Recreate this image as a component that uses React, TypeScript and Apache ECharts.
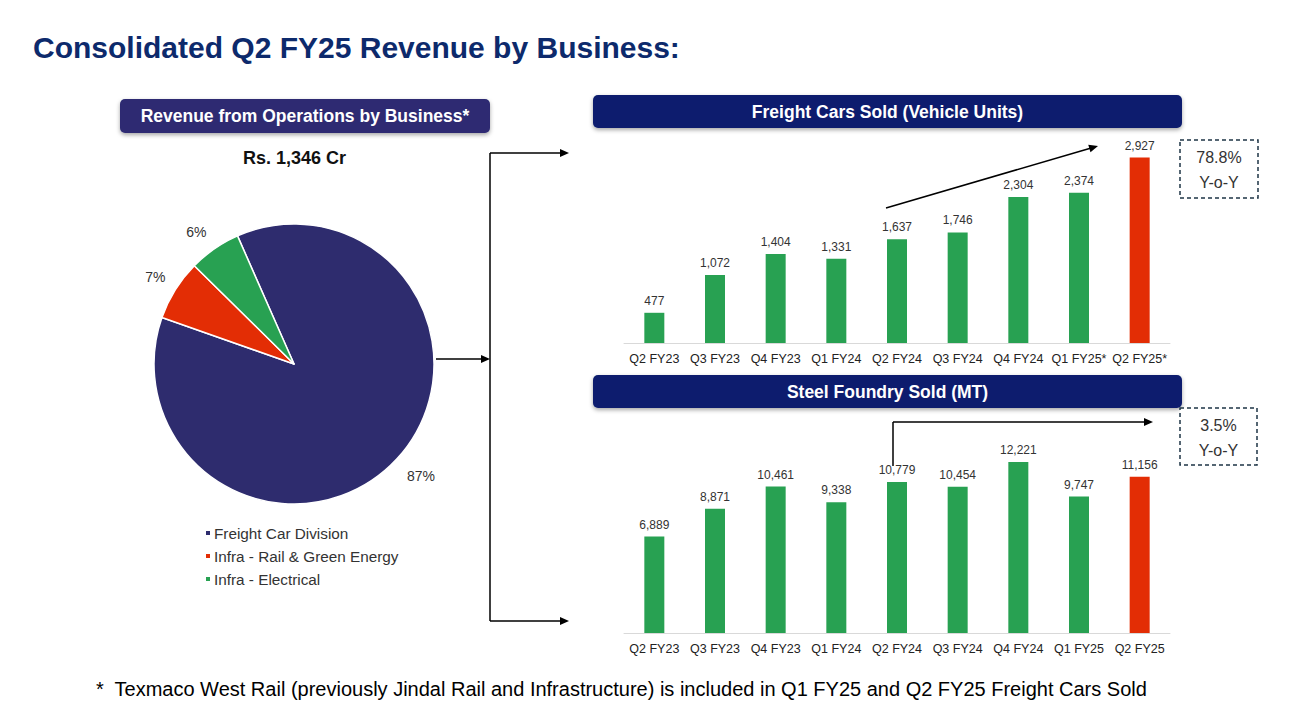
import React, { useEffect, useRef } from "react";
import * as echarts from "echarts";

const pieNames = ["Freight Car Division", "Infra - Rail & Green Energy", "Infra - Electrical"];
const pieValues = [87, 7, 6];
const quarters1 = ["Q2 FY23", "Q3 FY23", "Q4 FY23", "Q1 FY24", "Q2 FY24", "Q3 FY24", "Q4 FY24", "Q1 FY25*", "Q2 FY25*"];
const freightCars = [477, 1072, 1404, 1331, 1637, 1746, 2304, 2374, 2927];
const quarters2 = ["Q2 FY23", "Q3 FY23", "Q4 FY23", "Q1 FY24", "Q2 FY24", "Q3 FY24", "Q4 FY24", "Q1 FY25", "Q2 FY25"];
const steelFoundry = [6889, 8871, 10461, 9338, 10779, 10454, 12221, 9747, 11156];
const yoy1 = ["78.8%", "Y-o-Y"];
const yoy2 = ["3.5%", "Y-o-Y"];

const NAVY_PIE = "#2E2C6E";
const RED = "#E32D05";
const GREEN = "#28A152";
const HEADER = "#0C1F6E";
const FONT = "'Liberation Sans', Arial, sans-serif";
const pieLabelOffsets = [[-4, 7], [6, -5], [4, -5]];

function barData(vals: number[]) {
  return vals.map((v, i) =>
    i === vals.length - 1 ? { value: v, itemStyle: { color: RED } } : v
  );
}

function arrowHead(x: number, y: number, dir: "right" | number) {
  const ang = dir === "right" ? 0 : dir;
  const L = 9, W = 4;
  const bx = x - L * Math.cos(ang), by = y - L * Math.sin(ang);
  const px = -Math.sin(ang) * W, py = Math.cos(ang) * W;
  return {
    type: "polygon",
    shape: { points: [[x, y], [bx + px, by + py], [bx - px, by - py]] },
    style: { fill: "#000" },
    silent: true,
  };
}

function line(x1: number, y1: number, x2: number, y2: number) {
  return {
    type: "line",
    shape: { x1, y1, x2, y2 },
    style: { stroke: "#000", lineWidth: 1.5 },
    silent: true,
  };
}

function header(x: number, y: number, w: number, h: number, text: string, color: string) {
  return {
    type: "group",
    children: [
      {
        type: "rect",
        shape: { x, y, width: w, height: h, r: 5 },
        style: { fill: color, shadowBlur: 4, shadowOffsetY: 2, shadowColor: "rgba(0,0,0,0.35)" },
      },
      {
        type: "text",
        x: x + w / 2,
        y: y + h / 2,
        style: {
          text,
          fill: "#fff",
          font: `bold 17.5px ${FONT}`,
          textAlign: "center",
          textVerticalAlign: "middle",
        },
      },
    ],
  };
}

function yoyBox(x: number, y: number, w: number, h: number, lines: string[]) {
  return {
    type: "group",
    children: [
      {
        type: "rect",
        shape: { x, y, width: w, height: h },
        style: { fill: "#fff", stroke: "#1E3546", lineWidth: 1.5, lineDash: [4, 3] },
      },
      {
        type: "text",
        x: x + w / 2,
        y: y + h / 2 + 1,
        style: {
          text: lines.join("\n"),
          fill: "#333",
          font: `16px ${FONT}`,
          lineHeight: 25,
          textAlign: "center",
          textVerticalAlign: "middle",
        },
      },
    ],
  };
}

export default function App() {
  const ref = useRef<HTMLDivElement>(null);
  useEffect(() => {
    if (!ref.current) return;
    const chart = echarts.init(ref.current, null, { renderer: "svg" });
    const angleUp = Math.atan2(146 - 208, 1098 - 886);
    const xAxisBase = (data: string[], gridIndex: number) => ({
      type: "category",
      data,
      gridIndex,
      axisLine: { lineStyle: { color: "#D9D9D9", width: 1 } },
      axisTick: { show: false },
      axisLabel: { color: "#222", fontSize: 12.5, fontFamily: FONT, margin: 9, interval: 0 },
    });
    const yAxisBase = (gridIndex: number, max: number) => ({
      type: "value",
      gridIndex,
      min: 0,
      max,
      show: false,
      splitLine: { show: false },
    });
    const barLabel = {
      show: true,
      position: "top",
      distance: 6,
      color: "#333",
      fontSize: 12,
      fontFamily: FONT,
      formatter: (p: any) => Number(p.value).toLocaleString("en-US"),
    };
    chart.setOption({
      animation: false,
      backgroundColor: "#fff",
      textStyle: { fontFamily: FONT },
      title: [
        {
          text: "Consolidated Q2 FY25 Revenue by Business:",
          left: 33,
          top: 32,
          padding: 0,
          textStyle: { color: "#0D2A6C", fontSize: 30, fontWeight: "bold", fontFamily: FONT },
        },
        {
          text: "Rs. 1,346 Cr",
          left: 243,
          top: 149,
          padding: 0,
          textStyle: { color: "#111", fontSize: 18, fontWeight: "bold", fontFamily: FONT },
        },
        {
          text: "*  Texmaco West Rail (previously Jindal Rail and Infrastructure) is included in Q1 FY25 and Q2 FY25 Freight Cars Sold",
          left: 96,
          top: 679,
          padding: 0,
          textStyle: { color: "#000", fontSize: 20, fontWeight: "normal", fontFamily: FONT },
        },
      ],
      legend: {
        orient: "vertical",
        left: 199,
        top: 520,
        icon: "rect",
        itemWidth: 6,
        itemHeight: 6,
        itemGap: 7,
        data: pieNames,
        textStyle: { color: "#333", fontSize: 15.3, fontFamily: FONT, padding: [0, 0, 0, -2], lineHeight: 16 },
      },
      grid: [
        { left: 624, width: 546, top: 134, height: 209 },
        { left: 624, width: 546, top: 423, height: 210 },
      ],
      xAxis: [xAxisBase(quarters1, 0), xAxisBase(quarters2, 1)],
      yAxis: [yAxisBase(0, 3300), yAxisBase(1, 15000)],
      series: [
        {
          type: "pie",
          center: [294, 364],
          radius: 140,
          startAngle: 113.8,
          clockwise: true,
          data: pieNames.map((n, i) => ({
            name: n,
            value: pieValues[i],
            label: { offset: pieLabelOffsets[i] },
          })),
          color: [NAVY_PIE, RED, GREEN],
          itemStyle: { borderColor: "#fff", borderWidth: 1.5 },
          label: {
            show: true,
            position: "outside",
            formatter: "{c}%",
            color: "#333",
            fontSize: 14,
            fontFamily: FONT,
            distanceToLabelLine: 4,
          },
          labelLine: { show: false, length: 14, length2: 0 },
        },
        {
          type: "bar",
          xAxisIndex: 0,
          yAxisIndex: 0,
          data: barData(freightCars),
          barWidth: 20,
          itemStyle: { color: GREEN },
          label: barLabel,
        },
        {
          type: "bar",
          xAxisIndex: 1,
          yAxisIndex: 1,
          data: barData(steelFoundry),
          barWidth: 20,
          itemStyle: { color: GREEN },
          label: barLabel,
        },
      ],
      graphic: [
        header(120, 99, 370, 34, "Revenue from Operations by Business*", "#2D2B72"),
        header(593, 95, 589, 33, "Freight Cars Sold (Vehicle Units)", HEADER),
        header(593, 375, 589, 33, "Steel Foundry Sold (MT)", HEADER),
        line(436, 359, 482, 359),
        arrowHead(490, 359, "right"),
        line(490, 153, 490, 621),
        line(490, 153, 560, 153),
        arrowHead(569, 153, "right"),
        line(490, 621, 560, 621),
        arrowHead(569, 621, "right"),
        line(886, 208, 1098 - 8 * Math.cos(angleUp), 146 - 8 * Math.sin(angleUp)),
        arrowHead(1098, 146, angleUp),
        line(893, 466, 893, 422),
        line(893, 422, 1145, 422),
        arrowHead(1153, 422, "right"),
        yoyBox(1180, 140, 78, 58, yoy1),
        yoyBox(1180, 408, 77, 57, yoy2),
      ],
    });
    return () => chart.dispose();
  }, []);
  return (
    <div
      ref={ref}
      style={{ position: "fixed", left: 0, top: 0, width: 1293, height: 727, background: "#fff" }}
    />
  );
}
